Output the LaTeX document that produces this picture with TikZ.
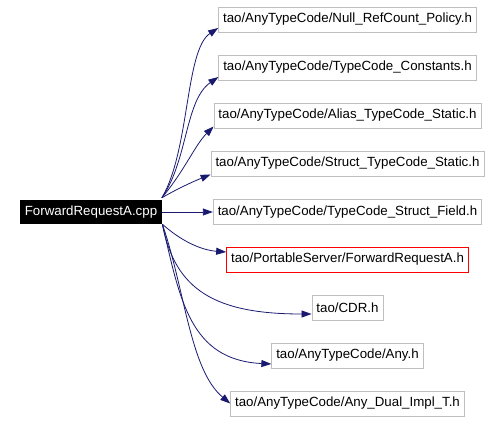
\documentclass[tikz,border=0pt]{standalone}
\usepackage{fontspec}
\setmainfont{Liberation Sans}
\usepackage{xcolor}
\definecolor{EdgeBlue}{HTML}{191970}
\definecolor{BoxGray}{HTML}{BFBFBF}
\usetikzlibrary{arrows.meta}

\begin{document}
\begin{tikzpicture}[x=1pt, y=1pt,
    file/.style={draw=BoxGray, line width=0.8pt, fill=white, inner xsep=4.5pt,
      minimum height=25pt, font=\fontsize{13.3}{15}\selectfont},
    mainfile/.style={fill=black, text=white, inner xsep=5pt,
      minimum height=24pt, font=\fontsize{13.3}{15}\selectfont},
    hdr/.style={file, draw=red},
    dep/.style={EdgeBlue, line width=0.8pt, -{Triangle[length=10pt, width=7pt]}}]
  \useasboundingbox (0,0) rectangle (502,-422);

  \node[mainfile] (cpp) at (91,-212) {ForwardRequestA.cpp};

  \node[file] (nullrc)  at (347.5,-19.5)  {tao/AnyTypeCode/Null\_RefCount\_Policy.h};
  \node[file] (tcconst) at (347.5,-67.5)  {tao/AnyTypeCode/TypeCode\_Constants.h};
  \node[file] (aliastc) at (347.5,-115.5) {tao/AnyTypeCode/Alias\_TypeCode\_Static.h};
  \node[file] (structtc) at (347.5,-163.5) {tao/AnyTypeCode/Struct\_TypeCode\_Static.h};
  \node[file] (tcfield) at (347.5,-212)   {tao/AnyTypeCode/TypeCode\_Struct\_Field.h};
  \node[hdr]  (fwdreq)  at (347.5,-259.5) {tao/PortableServer/ForwardRequestA.h};
  \node[file] (cdr)     at (347.5,-307.5) {tao/CDR.h};
  \node[file] (any)     at (347.5,-355.5) {tao/AnyTypeCode/Any.h};
  \node[file] (anydual) at (347.5,-403.5) {tao/AnyTypeCode/Any\_Dual\_Impl\_T.h};

  % upper includes leave from the top corner
  \draw[dep] ([xshift=-0.5pt, yshift=2pt]cpp.north east) .. controls (190,-150) and (185,-50) .. ([yshift=-8.5pt]nullrc.west);
  \draw[dep] ([xshift=-0.5pt, yshift=2pt]cpp.north east) .. controls (188,-160) and (185,-100) .. ([yshift=-9.5pt]tcconst.west);
  \draw[dep] ([xshift=-0.5pt, yshift=2pt]cpp.north east) .. controls (185,-170) and (195,-145) .. ([yshift=-11pt]aliastc.west);
  \draw[dep] ([xshift=-0.5pt, yshift=2pt]cpp.north east) .. controls (175,-190) and (192,-182) .. ([yshift=-11pt]structtc.west);
  \draw[dep] (cpp.east) -- (tcfield.west);
  % lower includes leave from the bottom corner
  \draw[dep] (cpp.south east) .. controls (180,-240) and (200,-250) .. ([yshift=7.5pt]fwdreq.west);
  \draw[dep] (cpp.south east) .. controls (175,-290) and (215,-314) .. ([yshift=-6.5pt]cdr.west);
  \draw[dep] (cpp.south east) .. controls (180,-300) and (190,-360) .. ([yshift=-8.5pt]any.west);
  \draw[dep] (cpp.south east) .. controls (185,-290) and (190,-370) .. (anydual.west);
\end{tikzpicture}
\end{document}
